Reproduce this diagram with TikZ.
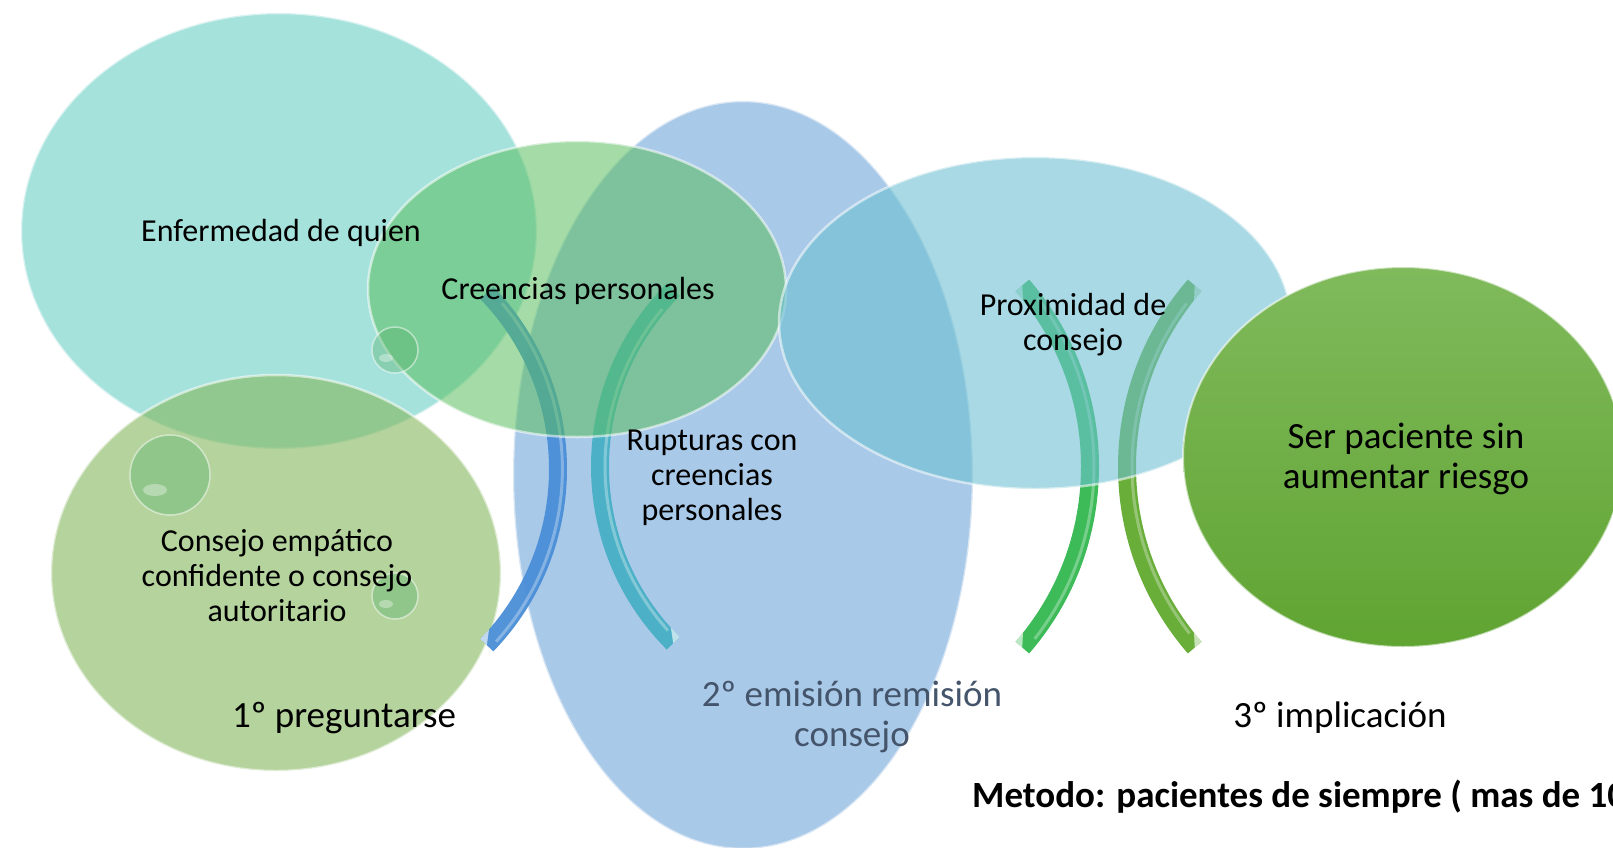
\documentclass[tikz,border=0pt]{standalone}
\usepackage{fontspec}
\setmainfont{Carlito}
\usetikzlibrary{calc}
\definecolor{cTeal}{RGB}{105,208,198}
\definecolor{cLgreen}{RGB}{133,183,93}
\definecolor{cBlue}{RGB}{113,165,217}
\definecolor{cGreen}{RGB}{90,190,95}
\definecolor{cSky}{RGB}{110,192,210}
\definecolor{cArcA}{RGB}{74,143,216}
\definecolor{cArcB}{RGB}{72,176,198}
\definecolor{cArcC}{RGB}{60,187,88}
\definecolor{cArcD}{RGB}{106,174,58}
\definecolor{cDark}{RGB}{68,84,106}
\definecolor{cGtop}{RGB}{128,186,92}
\definecolor{cGbot}{RGB}{96,164,50}
\definecolor{cBub}{RGB}{90,180,110}
\begin{document}
\begin{tikzpicture}[x=1pt,y=-1pt,
  txt/.style={font=\fontsize{32}{35}\selectfont, align=center, inner sep=0pt},
  bigtxt/.style={font=\fontsize{37}{40.5}\selectfont, align=center, inner sep=0pt},
  lbl/.style={font=\fontsize{37}{40}\selectfont, align=center, inner sep=0pt},
  rim/.style={draw=white, draw opacity=0.55, line width=2.5pt},
  arcband/.style={line width=18pt, line cap=butt},
  gloss/.style={draw=white, draw opacity=0.3, line width=3pt},
  bevel/.style={fill=white, fill opacity=0.65},
  bubble/.style={fill=cBub, fill opacity=0.4, draw=white, draw opacity=0.5, line width=1.5pt},
  shine/.style={fill=white, fill opacity=0.35}]
\clip (0,0) rectangle (1613,847);
\fill[white] (0,0) rectangle (1613,847);

% ellipse 1 (teal)
\fill[cTeal, fill opacity=0.6] (279,231) ellipse [x radius=258, y radius=218];
\draw[rim] (279,231) ellipse [x radius=258, y radius=218];
% ellipse 5 (light green)
\fill[cLgreen, fill opacity=0.6] (276,573) ellipse [x radius=225, y radius=198];
\draw[rim] (276,573) ellipse [x radius=225, y radius=198];
% ellipse 3 (blue tall)
\fill[cBlue, fill opacity=0.6] (743,475) ellipse [x radius=230, y radius=374];
\draw[rim] (743,475) ellipse [x radius=230, y radius=374];

% arcs A and B
\draw[arcband, cArcA, opacity=0.95] (304.4,469) ++(-44:253.6) arc[start angle=-44, end angle=44, radius=253.6];
\draw[gloss] (304.4,469) ++(-40:258) arc[start angle=-40, end angle=42, radius=258];
\fill[bevel] (304.4,469) ++(44:244.6) -- ($(304.4,469)+(44:253.6)$) -- ($(304.4,469)+(41:244.6)$) -- cycle;
\draw[arcband, cArcB, opacity=0.95] (850,466.5) ++(225:250) arc[start angle=225, end angle=135, radius=250];
\draw[gloss] (850,466.5) ++(220:245) arc[start angle=220, end angle=138, radius=245];
\fill[bevel] (850,466.5) ++(135:241) -- ($(850,466.5)+(135:250)$) -- ($(850,466.5)+(138:241)$) -- cycle;

% ellipse 2 (green)
\fill[cGreen, fill opacity=0.55] (577,289) ellipse [x radius=209, y radius=148];
\draw[rim] (577,289) ellipse [x radius=209, y radius=148];

% arcs C and D
\draw[arcband, cArcC] (814,466.5) ++(-41:276) arc[start angle=-41, end angle=41, radius=276];
\draw[gloss] (814,466.5) ++(-37:280) arc[start angle=-37, end angle=38, radius=280];
\fill[bevel] (814,466.5) ++(-41:267) -- ($(814,466.5)+(-41:276)$) -- ($(814,466.5)+(-38.5:267)$) -- cycle;
\fill[bevel] (814,466.5) ++(41:267) -- ($(814,466.5)+(41:276)$) -- ($(814,466.5)+(38.5:267)$) -- cycle;
\draw[arcband, cArcD] (1403,466.5) ++(221:276) arc[start angle=221, end angle=139, radius=276];
\draw[gloss] (1403,466.5) ++(217:271) arc[start angle=217, end angle=142, radius=271];
\fill[bevel] (1403,466.5) ++(221:267) -- ($(1403,466.5)+(221:276)$) -- ($(1403,466.5)+(218.5:267)$) -- cycle;
\fill[bevel] (1403,466.5) ++(139:267) -- ($(1403,466.5)+(139:276)$) -- ($(1403,466.5)+(141.5:267)$) -- cycle;

% ellipse 4 (sky)
\fill[cSky, fill opacity=0.6] (1035,323) ellipse [x radius=256, y radius=166];
\draw[rim] (1035,323) ellipse [x radius=256, y radius=166];

% ellipse 6 (dark green, opaque)
\shade[top color=cGtop, bottom color=cGbot] (1403,457) ellipse [x radius=220, y radius=190];
\draw[draw=white, draw opacity=0.6, line width=2pt] (1403,457) ellipse [x radius=220, y radius=190];

% bubbles
\draw[bubble] (395,350) circle [radius=23];
\fill[shine] (386,358) ellipse [x radius=7, y radius=4];
\draw[bubble] (170,475) circle [radius=40];
\fill[shine] (155,490) ellipse [x radius=12, y radius=6];
\draw[bubble] (395,596) circle [radius=23];
\fill[shine] (386,604) ellipse [x radius=7, y radius=4];

% texts
\node[txt] (t1) at (281,233) {Enfermedad de quien};
\node[txt] (t2) at (578,291) {Creencias personales};
\node[txt] (t3) at (712,478) {Rupturas con\\creencias\\personales};
\node[txt] (t4) at (1073,325) {Proximidad de\\consejo};
\node[txt] (t5) at (277,576) {Consejo empático\\confidente o consejo\\autoritario};
\node[bigtxt] (t6) at (1406,459) {Ser paciente sin\\aumentar riesgo};
\node[lbl] (l1) at (344,718) {1º preguntarse};
\node[lbl, text=cDark] (l2) at (852,717) {2º emisión remisión\\consejo};
\node[lbl] (l3) at (1340,718) {3º implicación};
\node[anchor=west, font=\bfseries\fontsize{37}{42}\selectfont, inner sep=0pt] (m) at (972,797) {Metodo: pacientes de siempre ( mas de 10};
\end{tikzpicture}
\end{document}
